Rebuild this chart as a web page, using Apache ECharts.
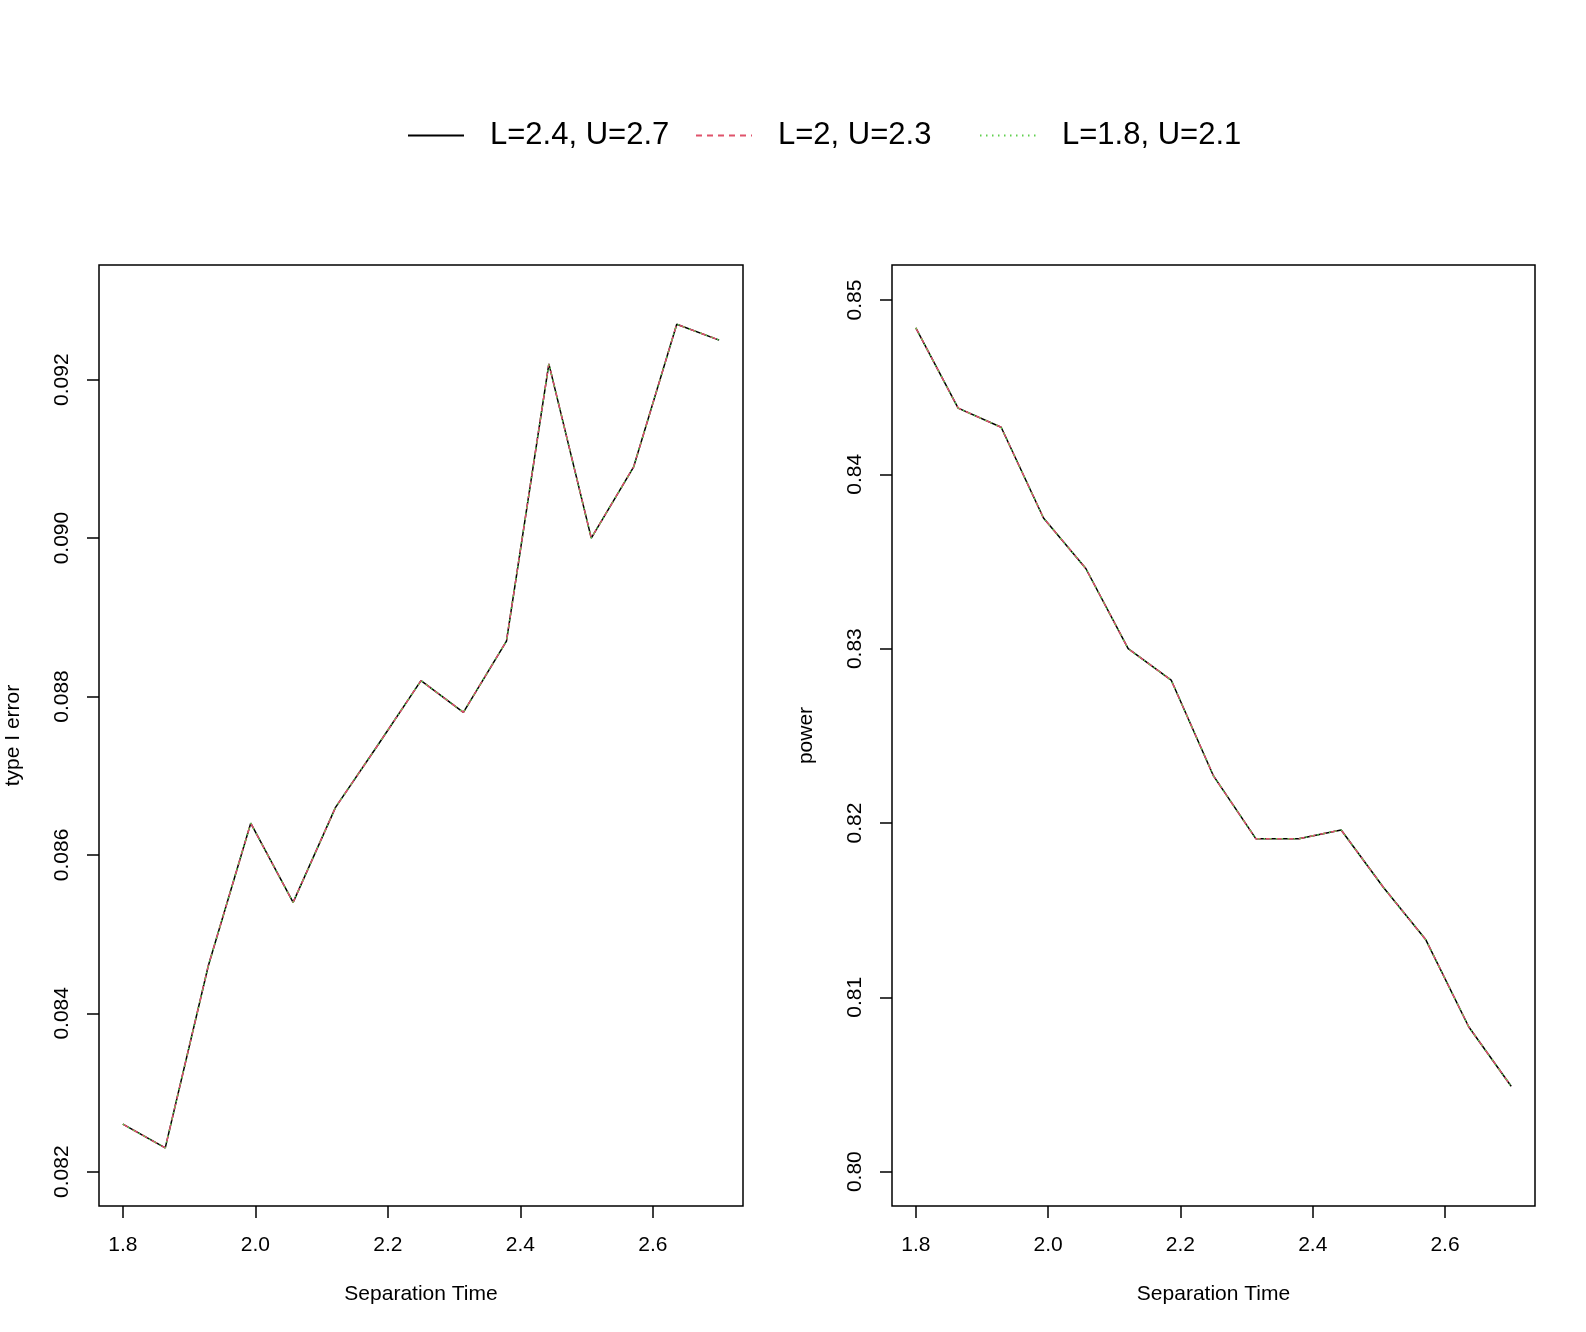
<!DOCTYPE html>
<html>
<head>
<meta charset="utf-8">
<script src="https://cdn.jsdelivr.net/npm/echarts@6/dist/echarts.min.js"></script>
<style>
  html, body { margin: 0; padding: 0; background: #fff; }
  #chart { width: 1586px; height: 1332px; }
</style>
</head>
<body>
<div id="chart"></div>
<script>
// data (the three settings overlap, so they share values)
const sepTime = [1.8, 1.864, 1.929, 1.993, 2.057, 2.121, 2.186, 2.25, 2.314, 2.379, 2.443, 2.507, 2.571, 2.636, 2.7]
const typeIError = [0.0826, 0.0823, 0.0846, 0.0864, 0.0854, 0.0866, 0.0874, 0.0882, 0.0878, 0.0887, 0.0922, 0.0900, 0.0909, 0.0927, 0.0925]
const power = [0.8484, 0.8438, 0.8427, 0.8375, 0.8346, 0.8300, 0.8282, 0.8227, 0.8191, 0.8191, 0.8196, 0.8163, 0.8133, 0.8083, 0.8049]
const seriesNames = ["L=2.4, U=2.7", "L=2, U=2.3", "L=1.8, U=2.1"]

const xTicks = [1.8, 2.0, 2.2, 2.4, 2.6]
const typeITicks = [0.082, 0.084, 0.086, 0.088, 0.090, 0.092]
const powerTicks = [0.80, 0.81, 0.82, 0.83, 0.84, 0.85]

const FONT = "'Liberation Sans', Arial, sans-serif"
const lineStyles = [
  { color: "#000000", type: "solid" },
  { color: "#DF536B", type: [6, 5] },
  { color: "#61D04F", type: [1.5, 4.5] },
]

const pairs = (ys) => sepTime.map((x, i) => [x, ys[i]])

const xAxisFor = (gridIndex) => ({
  type: "value",
  gridIndex,
  min: 1.764,
  max: 2.736,
  name: "Separation Time",
  nameLocation: "middle",
  nameGap: 78,
  nameTextStyle: { fontSize: 21, color: "#000", fontFamily: FONT },
  axisLine: { show: false },
  splitLine: { show: false },
  axisTick: { show: true, length: 12, customValues: xTicks, lineStyle: { color: "#000", width: 1.5 } },
  axisLabel: {
    customValues: xTicks,
    margin: 29,
    fontSize: 21,
    color: "#000",
    fontFamily: FONT,
    formatter: (v) => v.toFixed(1),
  },
})

const yAxisFor = (gridIndex, name, min, max, ticks, digits) => ({
  type: "value",
  gridIndex,
  min,
  max,
  name,
  nameLocation: "middle",
  nameGap: 75,
  nameTextStyle: { fontSize: 21, color: "#000", fontFamily: FONT },
  axisLine: { show: false },
  splitLine: { show: false },
  axisTick: { show: true, length: 12, customValues: ticks, lineStyle: { color: "#000", width: 1.5 } },
  axisLabel: {
    customValues: ticks,
    rotate: 90,
    margin: 26,
    fontSize: 21,
    color: "#000",
    fontFamily: FONT,
    formatter: (v) => v.toFixed(digits),
  },
})

const series = []
;[typeIError, power].forEach((vals, g) => {
  seriesNames.forEach((name, k) => {
    series.push({
      name,
      type: "line",
      xAxisIndex: g,
      yAxisIndex: g,
      data: pairs(vals),
      symbol: "none",
      lineStyle: { width: 1.5, color: lineStyles[k].color, type: lineStyles[k].type },
      itemStyle: { color: lineStyles[k].color },
      z: 2 + k,
    })
  })
})

// R style horizontal legend: one block per entry, line sample only
const legendLeft = [402, 690, 974]
const legends = seriesNames.map((name, k) => ({
  left: legendLeft[k],
  top: 115,
  data: [name],
  itemWidth: 56,
  itemHeight: 30,
  selectedMode: false,
  itemStyle: { color: "rgba(0,0,0,0)", borderWidth: 0, opacity: 0 },
  textStyle: { fontSize: 31, color: "#000", fontFamily: FONT, padding: [0, 0, 0, 21] },
}))

const option = {
  animation: false,
  backgroundColor: "#fff",
  legend: legends,
  grid: [
    { left: 99, top: 265, width: 644, height: 941, show: true, borderColor: "#000", borderWidth: 1.5, backgroundColor: "transparent" },
    { left: 892, top: 265, width: 643, height: 941, show: true, borderColor: "#000", borderWidth: 1.5, backgroundColor: "transparent" },
  ],
  xAxis: [xAxisFor(0), xAxisFor(1)],
  yAxis: [
    yAxisFor(0, "type I error", 0.081567, 0.093448, typeITicks, 3),
    yAxisFor(1, "power", 0.79803, 0.85201, powerTicks, 2),
  ],
  series,
}

const myChart = echarts.init(document.getElementById("chart"))
myChart.setOption(option)
</script>
</body>
</html>
